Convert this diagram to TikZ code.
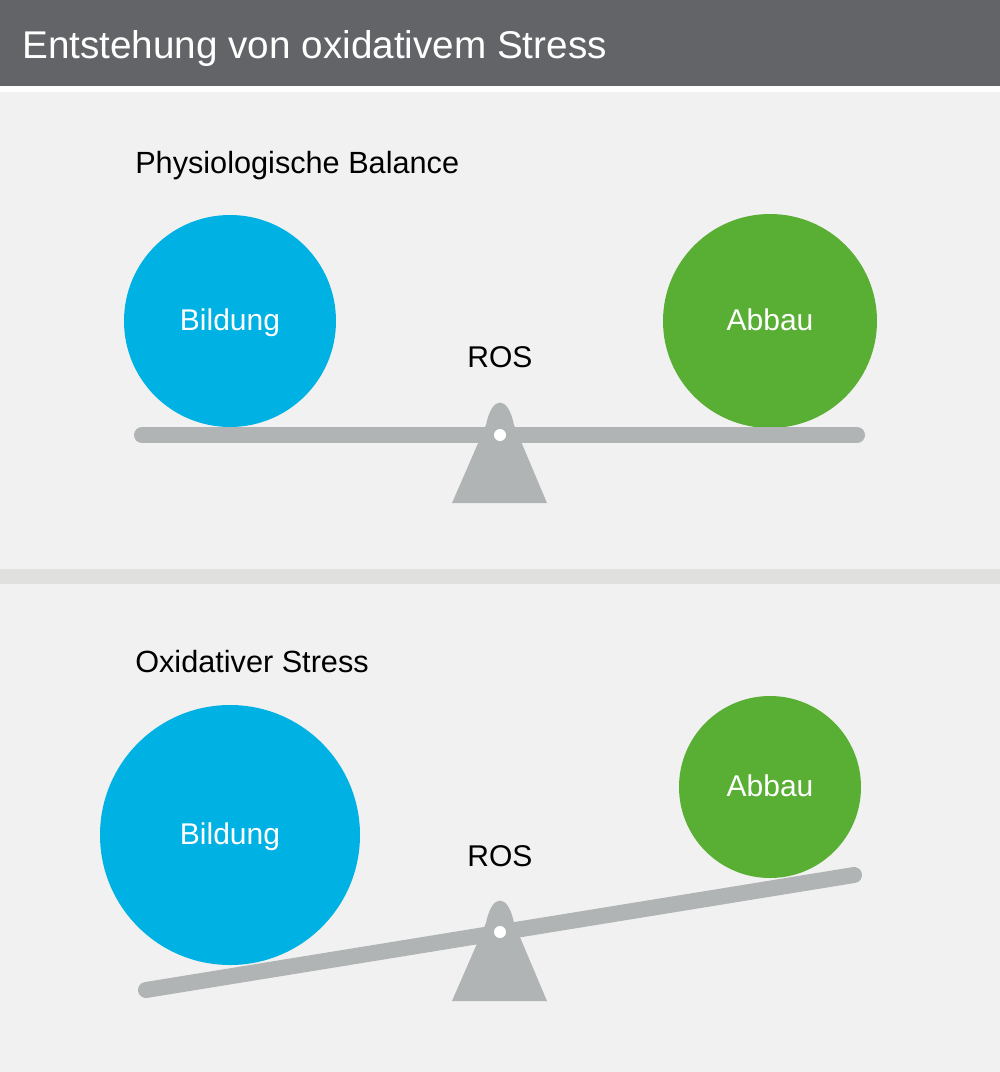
\documentclass[tikz,border=0pt]{standalone}
\usepackage{fontspec}
\setmainfont{Liberation Sans}
\definecolor{hdr}{HTML}{636468}
\definecolor{bg}{HTML}{F1F1F1}
\definecolor{sep}{HTML}{E0E0DE}
\definecolor{bblue}{HTML}{00B1E3}
\definecolor{bgreen}{HTML}{58AF33}
\definecolor{bgray}{HTML}{B1B4B4}
\tikzset{
  beam/.style={draw=bgray, line width=12pt, line cap=round},
  fulcrum/.style={fill=bgray},
  hole/.style={fill=white},
  balltext/.style={text=white, font=\fontsize{22.5}{26}\selectfont, anchor=base, inner sep=0pt},
  heading/.style={text=black, font=\fontsize{23}{27}\selectfont, anchor=base west, inner sep=0pt},
  rostext/.style={text=black, font=\fontsize{22.5}{26}\selectfont, anchor=base, inner sep=0pt},
}
\begin{document}
\begin{tikzpicture}[x=0.75pt, y=-0.75pt]
\useasboundingbox (0,0) rectangle (1000,1072);
% backgrounds
\fill[bg] (0,0) rectangle (1000,1072);
\fill[white] (0,86) rectangle (1000,92);
\fill[hdr] (0,0) rectangle (1000,86);
\fill[sep] (0,569) rectangle (1000,584);
\node[text=white, font=\fontsize{29}{34}\selectfont, anchor=base west, inner sep=0pt] (title) at (22,58) {Entstehung von oxidativem Stress};

% ---------- top: physiological balance ----------
\node[heading] (h1) at (135,173) {Physiologische Balance};
\fill[bblue] (230,321) circle (106);
\fill[bgreen] (770,321) circle (107);
\node[balltext] (b1) at (230,330) {Bildung};
\node[balltext] (a1) at (770,330) {Abbau};
\node[rostext] (r1) at (500,367) {ROS};
\coordinate (l1) at (142,435);
\coordinate (rr1) at (857,435);
\draw[beam] (l1) -- (rr1);
\fill[fulcrum] (452,503) -- (486,425) .. controls (492,395) and (508,395) .. (514,425) -- (547,503) -- cycle;
\fill[hole] (500,435) circle (6);

% ---------- bottom: oxidative stress ----------
\node[heading] (h2) at (135,672) {Oxidativer Stress};
\fill[bblue] (230,835) circle (130);
\fill[bgreen] (770,787) circle (91);
\node[balltext] (b2) at (230,844) {Bildung};
\node[balltext] (a2) at (770,796) {Abbau};
\node[rostext] (r2) at (500,866) {ROS};
\coordinate (l2) at (146,990);
\coordinate (rr2) at (854,875);
\draw[beam] (l2) -- (rr2);
\fill[fulcrum] (452,1001) -- (486,923) .. controls (492,893) and (508,893) .. (514,923) -- (547,1001) -- cycle;
\fill[hole] (500,932) circle (6);
\end{tikzpicture}
\end{document}
